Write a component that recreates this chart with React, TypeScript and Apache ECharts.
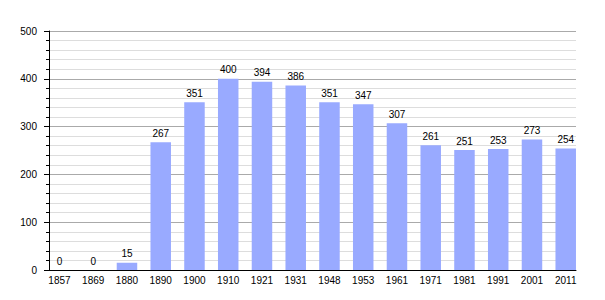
import React, { useEffect, useRef } from "react";
import * as echarts from "echarts";

const years = ["1857", "1869", "1880", "1890", "1900", "1910", "1921", "1931", "1948", "1953", "1961", "1971", "1981", "1991", "2001", "2011"];
const population = [0, 0, 15, 267, 351, 400, 394, 386, 351, 347, 307, 261, 251, 253, 273, 254];
const yMin = 0;
const yMax = 500;
const yStep = 100;

const FONT = "Liberation Sans, Arial, sans-serif";

export default function App() {
  const ref = useRef<HTMLDivElement>(null);
  useEffect(() => {
    const chart = echarts.init(ref.current!, null, { renderer: "svg" });
    chart.setOption({
      animation: false,
      grid: [
        { left: 42.6, right: 22.4, top: 31, bottom: 30 },
        { left: 49, right: 29, top: 31, bottom: 30 },
      ],
      xAxis: [
        {
          type: "category",
          gridIndex: 0,
          data: years,
          axisLine: { show: false },
          axisTick: { show: false },
          axisLabel: { color: "#000", fontSize: 10, fontFamily: FONT, margin: 5 },
        },
        {
          type: "value",
          gridIndex: 1,
          min: 0,
          max: 1,
          axisLine: { show: true, onZero: false, lineStyle: { color: "#000", width: 1 } },
          axisTick: { show: false },
          axisLabel: { show: false },
          splitLine: { show: false },
        },
      ],
      yAxis: [
        {
          type: "value",
          gridIndex: 0,
          min: yMin,
          max: yMax,
          show: false,
          splitLine: { show: false },
        },
        {
          type: "value",
          gridIndex: 1,
          min: yMin,
          max: yMax,
          interval: yStep,
          axisLine: { show: true, onZero: false, lineStyle: { color: "#000", width: 1 } },
          axisTick: { show: true, length: 5, lineStyle: { color: "#000" } },
          minorTick: { show: true, splitNumber: 5, length: 3, lineStyle: { color: "#000" } },
          axisLabel: { color: "#000", fontSize: 10, fontFamily: FONT, margin: 12 },
          splitLine: { show: true, lineStyle: { color: "#aaaaaa", width: 1 } },
          minorSplitLine: { show: true, lineStyle: { color: "#dddddd", width: 1 } },
        },
      ],
      series: [
        {
          type: "bar",
          xAxisIndex: 0,
          yAxisIndex: 0,
          data: population,
          barWidth: 20.5,
          itemStyle: { color: "#99aaff" },
          label: {
            show: true,
            position: "top",
            color: "#000",
            fontSize: 10,
            fontFamily: FONT,
            distance: 4,
          },
        },
      ],
    });
    return () => chart.dispose();
  }, []);
  return <div ref={ref} style={{ width: 605, height: 300, position: "absolute", left: 0, top: 0 }} />;
}
